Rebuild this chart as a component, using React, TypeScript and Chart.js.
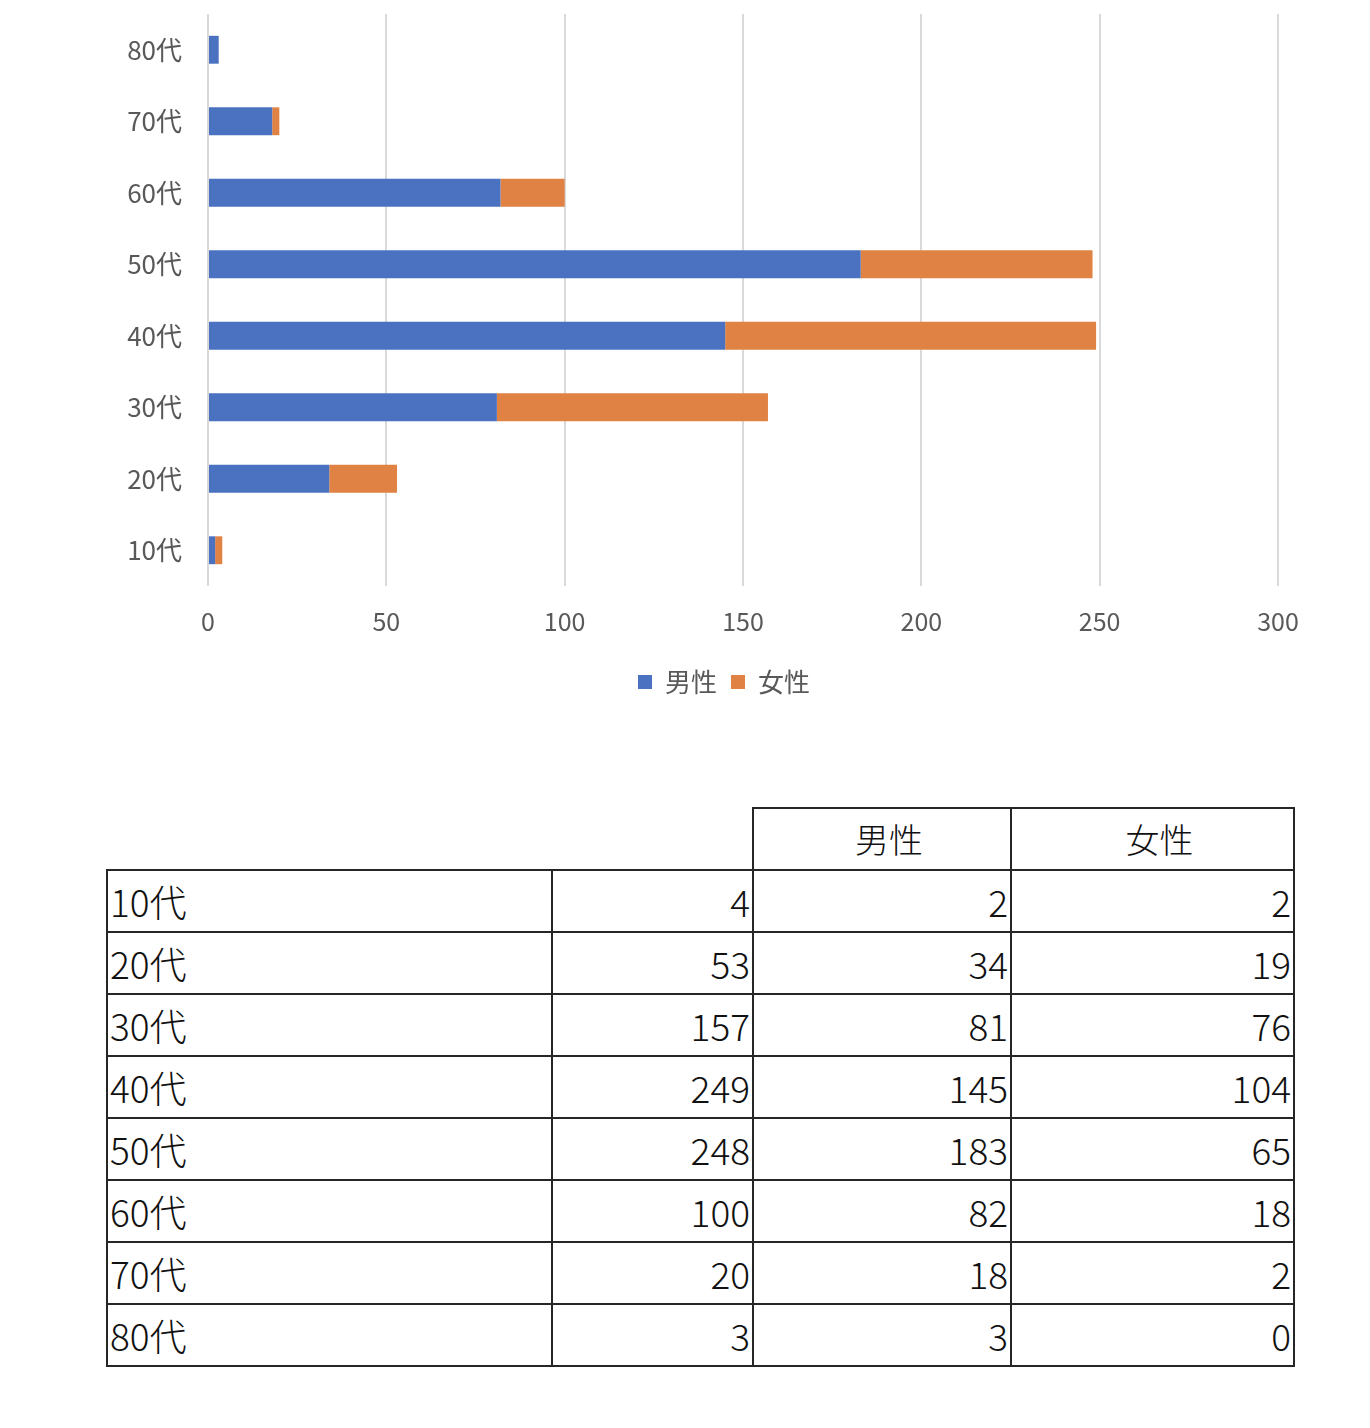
import React, { useEffect, useRef } from "react";
import { Chart, registerables } from "chart.js";

Chart.register(...registerables);

const categories = ["10代", "20代", "30代", "40代", "50代", "60代", "70代", "80代"];
const maleValues = [2, 34, 81, 145, 183, 82, 18, 3];
const femaleValues = [2, 19, 76, 104, 65, 18, 2, 0];
const totalValues = [4, 53, 157, 249, 248, 100, 20, 3];
const seriesNames = ["男性", "女性"];
const xTicks = [0, 50, 100, 150, 200, 250, 300];

const FONT = "'Noto Sans CJK JP', 'Noto Sans', sans-serif";

const legendShiftPlugin = {
  id: "legendShift",
  afterLayout(chart: any) {
    const lg = chart.legend;
    if (lg) {
      lg.left += 170;
    }
  },
};

export default function App() {
  const canvasRef = useRef<HTMLCanvasElement | null>(null);

  useEffect(() => {
    const canvas = canvasRef.current;
    if (!canvas) return;
    const chart = new Chart(canvas, {
      type: "bar",
      data: {
        labels: categories,
        datasets: [
          {
            label: seriesNames[0],
            data: maleValues,
            backgroundColor: "#4A72C1",
            barPercentage: 0.39,
            categoryPercentage: 1,
          },
          {
            label: seriesNames[1],
            data: femaleValues,
            backgroundColor: "#E08244",
            barPercentage: 0.39,
            categoryPercentage: 1,
          },
        ],
      },
      plugins: [legendShiftPlugin],
      options: {
        indexAxis: "y",
        animation: false,
        responsive: false,
        maintainAspectRatio: false,
        layout: { padding: { left: 0, right: 92, top: 14, bottom: 0 } },
        scales: {
          x: {
            stacked: true,
            min: 0,
            max: 300,
            afterBuildTicks: (axis: any) => {
              axis.ticks = xTicks.map((v) => ({ value: v }));
            },
            afterFit: (axis: any) => {
              axis.height = 69;
            },
            grid: { color: "#d9d9d9", lineWidth: 2, drawTicks: false },
            border: { display: false },
            ticks: { color: "#595959", font: { family: FONT, size: 25 }, padding: 20 },
          },
          y: {
            stacked: true,
            reverse: true,
            afterFit: (axis: any) => {
              axis.width = 208;
              axis.paddingTop = 0;
              axis.paddingBottom = 0;
            },
            grid: { display: false, drawTicks: false },
            border: { display: false },
            ticks: { color: "#595959", font: { family: FONT, size: 26 }, padding: 26 },
          },
        },
        plugins: {
          legend: {
            position: "bottom",
            labels: {
              color: "#595959",
              font: { family: FONT, size: 26 },
              boxWidth: 14,
              boxHeight: 14,
              padding: 14,
            },
          },
          tooltip: { enabled: false },
        },
      },
    });
    return () => chart.destroy();
  }, []);

  const colWidths = [445, 201, 258, 283];
  const border = "2px solid #262626";
  const cellFont: React.CSSProperties = {
    fontFamily: FONT,
    fontSize: 37,
    fontWeight: 300,
    color: "#111",
    lineHeight: 1,
    padding: "0 2px",
    verticalAlign: "middle",
    whiteSpace: "nowrap",
  };
  const headFont: React.CSSProperties = {
    ...cellFont,
    fontSize: 34,
    textAlign: "center",
    border,
    paddingLeft: 16,
  };

  return (
    <div style={{ position: "absolute", left: 0, top: 0, width: 1370, height: 1428, background: "#fff" }}>
      <canvas ref={canvasRef} width={1370} height={705} style={{ position: "absolute", left: 0, top: 0 }} />
      <table
        style={{
          position: "absolute",
          left: 106,
          top: 807,
          borderCollapse: "collapse",
          tableLayout: "fixed",
          width: colWidths.reduce((a, b) => a + b, 0) + 2,
        }}
      >
        <colgroup>
          {colWidths.map((w, i) => (
            <col key={i} style={{ width: w }} />
          ))}
        </colgroup>
        <tbody>
          <tr style={{ height: 62 }}>
            <td style={{ border: "none" }} />
            <td style={{ border: "none" }} />
            <td style={headFont}>{seriesNames[0]}</td>
            <td style={headFont}>{seriesNames[1]}</td>
          </tr>
          {categories.map((c, i) => (
            <tr key={c} style={{ height: 62 }}>
              <td style={{ ...cellFont, border, textAlign: "left" }}>{c}</td>
              <td style={{ ...cellFont, border, textAlign: "right" }}>{totalValues[i]}</td>
              <td style={{ ...cellFont, border, textAlign: "right" }}>{maleValues[i]}</td>
              <td style={{ ...cellFont, border, textAlign: "right" }}>{femaleValues[i]}</td>
            </tr>
          ))}
        </tbody>
      </table>
    </div>
  );
}
